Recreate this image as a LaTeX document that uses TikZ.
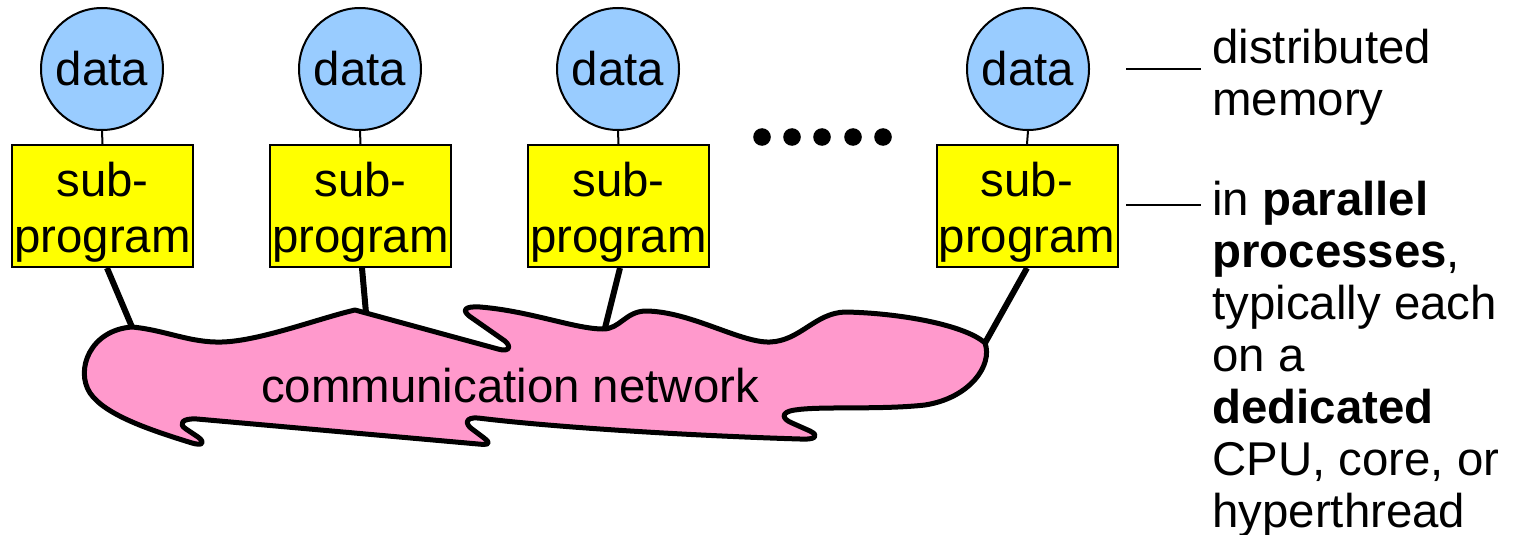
\documentclass[tikz,border=0pt]{standalone}
\usepackage{fontspec}
\setmainfont{Liberation Sans}
\usetikzlibrary{calc}
\definecolor{databg}{HTML}{99CCFF}
\definecolor{progbg}{HTML}{FFFF00}
\definecolor{netbg}{HTML}{FF99CC}
% taller first line pushes the two-line label slightly down in its box
\newcommand{\progtext}{\rule{0pt}{23pt}sub-\\program}
\begin{document}
\begin{tikzpicture}[x=0.5pt,y=-0.5pt,
  bigfont/.style={font=\fontsize{23.7pt}{28pt}\selectfont},
  datanode/.style={circle,draw=black,line width=1pt,fill=databg,minimum size=61pt,inner sep=0pt,bigfont},
  progbox/.style={rectangle,draw=black,line width=1pt,fill=progbg,minimum width=90.5pt,minimum height=61pt,inner sep=0pt,align=center,bigfont},
  thinlink/.style={draw=black,line width=1pt},
  netlink/.style={draw=black,line width=3pt},
  cloudshape/.style={draw=black,line width=2.5pt,fill=netbg,line join=round},
  notetext/.style={anchor=north west,inner sep=0pt,align=left,font=\fontsize{23.7pt}{26pt}\selectfont}]
\useasboundingbox (0,0) rectangle (1520,535);

% attachment points on the network outline
\coordinate (c1) at (132,327);
\coordinate (c2) at (366,313);
\coordinate (c3) at (605,328);
\coordinate (c4) at (985,343);

% sub-programs with their local data
\node[progbox] (s1) at (102.5,206) {\progtext};
\node[progbox] (s2) at (360.5,206) {\progtext};
\node[progbox] (s3) at (618.5,206) {\progtext};
\node[progbox] (s4) at (1027,206) {\progtext};

\node[datanode] (d1) at (102,69) {data};
\node[datanode] (d2) at (360,69) {data};
\node[datanode] (d3) at (618,69) {data};
\node[datanode] (d4) at (1028,69) {data};

\draw[thinlink] (d1.south) -- (s1.north);
\draw[thinlink] (d2.south) -- (s2.north);
\draw[thinlink] (d3.south) -- (s3.north);
\draw[thinlink] (d4.south) -- (s4.north);

% links from each sub-program down to the network
\draw[netlink] ($(s1.south)+(4.5,0)$) -- (c1);
\draw[netlink] ($(s2.south)+(1.5,0)$) -- (c2);
\draw[netlink] ($(s3.south)+(1.5,0)$) -- (c3);
\draw[netlink] (s4.south) -- (c4);

% the communication network
\path[cloudshape] (132,327)
  .. controls (165,330) and (190,343) .. (222,342)
  .. controls (260,341) and (320,318) .. (355,310)
  -- (498,349)
  .. controls (512,353) and (511,344) .. (502,339)
  -- (472,318)
  .. controls (460,310) and (465,306) .. (480,307)
  .. controls (530,311) and (575,329) .. (603,329)
  .. controls (620,329) and (625,312) .. (645,311)
  .. controls (690,311) and (740,343) .. (770,342)
  .. controls (800,341) and (815,313) .. (845,312)
  .. controls (900,313) and (965,325) .. (985,343)
  .. controls (993,365) and (970,398) .. (925,405)
  .. controls (880,410) and (820,406) .. (795,410)
  .. controls (780,412) and (782,419) .. (792,423)
  -- (810,431)
  .. controls (820,436) and (815,440) .. (800,439)
  .. controls (700,436) and (560,428) .. (478,418)
  .. controls (465,417) and (465,424) .. (472,429)
  -- (484,438)
  .. controls (492,444) and (488,445) .. (478,444)
  -- (197,419)
  .. controls (182,418) and (178,424) .. (186,429)
  -- (198,437)
  .. controls (206,443) and (202,446) .. (192,443)
  .. controls (150,430) and (105,415) .. (90,393)
  .. controls (75,370) and (90,330) .. (132,327)
  -- cycle;
\node[bigfont,inner sep=0pt] (net) at (510,386) {communication network};

% ellipsis between the sub-programs
\foreach \px in {762,792,822,853,883}
  \fill (\px,137) circle (4.4pt);

% annotations
\coordinate (m1) at (1126,69);
\coordinate (m2) at (1201,69);
\coordinate (p1) at (1126,205);
\coordinate (p2) at (1201,205);
\draw[thinlink] (m1) -- (m2);
\draw[thinlink] (p1) -- (p2);
\node[notetext] (memnote) at (1212,29) {distributed\\memory};
\node[notetext] (procnote) at (1212,181) {in \textbf{parallel}\\\textbf{processes},\\typically each\\on a\\\textbf{dedicated}\\CPU, core, or\\hyperthread};
\end{tikzpicture}
\end{document}
